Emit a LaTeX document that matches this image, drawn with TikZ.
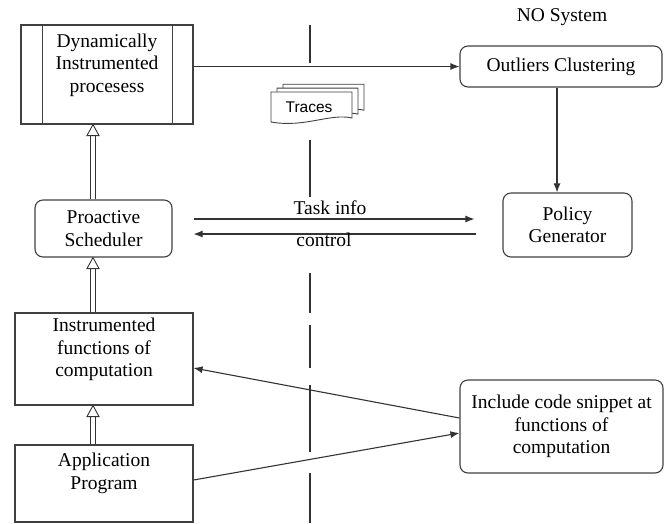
\documentclass[tikz,border=0pt]{standalone}
\usepackage{fontspec}
\setmainfont{Liberation Serif}
\newfontfamily\tracefont{Liberation Sans}
\usetikzlibrary{arrows.meta}

\tikzset{
  every node/.style={font=\rmfamily\fontsize{19.5}{22.5}\selectfont, text=black},
  sqbox/.style={draw=black!75, line width=1.1pt, align=center, inner sep=3pt},
  rbox/.style={sqbox, rounded corners=8pt},
  flow/.style={draw=black!80, line width=1.1pt, -{Latex[length=9pt,width=7pt]}},
  dblline/.style={draw=black!80, line width=0.9pt},
}
% hollow double arrow pointing up, from #1 to #2
\newcommand{\dblup}[2]{%
  \draw[dblline] ([xshift=-2.2pt]#1) -- ([xshift=-2.2pt,yshift=-10pt]#2);
  \draw[dblline] ([xshift=2.2pt]#1) -- ([xshift=2.2pt,yshift=-10pt]#2);
  \draw[dblline, fill=white, line join=miter] ([xshift=-6pt,yshift=-11pt]#2) -- (#2) -- ([xshift=6pt,yshift=-11pt]#2) -- cycle;}

\begin{document}
\begin{tikzpicture}[x=1pt, y=-1pt]
    \useasboundingbox (0,0) rectangle (664,523);
    % left column
    \node[sqbox, minimum width=172pt, minimum height=99pt, text depth=23pt] (dyn) at (107,74.5) {Dynamically\\Instrumented\\procesess};
    \draw[black!75, line width=1.1pt] ([xshift=22pt]dyn.north west) -- ([xshift=22pt]dyn.south west);
    \draw[black!75, line width=1.1pt] ([xshift=-21pt]dyn.north east) -- ([xshift=-21pt]dyn.south east);
    \node[rbox, minimum width=137pt, minimum height=57pt] (sched) at (103.5,228.5) {Proactive\\Scheduler};
    \node[sqbox, minimum width=178pt, minimum height=92pt, text depth=23pt] (inst) at (104,359) {Instrumented\\functions of\\computation};
    \node[sqbox, minimum width=178pt, minimum height=77pt, text depth=25pt] (app) at (104,483.5) {Application\\Program};
    % right column
    \node (nosys) at (562,17) {NO System};
    \node[rbox, minimum width=202pt, minimum height=41pt] (outl) at (561,66.5) {Outliers Clustering};
    \node[rbox, minimum width=129pt, minimum height=64pt] (policy) at (567.5,225) {Policy\\Generator};
    \node[rbox, minimum width=203pt, minimum height=93pt] (incl) at (561.5,426.5) {Include code snippet at\\functions of\\computation};

    % separator
    \foreach \a/\b in {25/63, 140/197, 273/313, 325/368, 385/452, 473/523}
        \draw[black!80, line width=1.1pt] (310,\a) -- (310,\b);

    % traces
    \foreach \d in {12,6,0}
        \draw[black!75, line width=0.9pt, fill=white] (271+\d,92-\d*0.65) -- (352+\d,92-\d*0.65) -- (352+\d,118-\d*0.65)
            .. controls (330+\d,113-\d*0.65) and (305+\d,128-\d*0.65) .. (271+\d,122-\d*0.65) -- cycle;
    \node[font=\tracefont\fontsize{15.5}{18}\selectfont] (traces) at (309,107) {Traces};

    % connectors
    \draw[flow] (dyn.east |- outl.west) -- (outl.west);
    \draw[flow] ([xshift=-4pt]outl.south) -- ([xshift=-4pt]outl.south |- policy.north);
    \coordinate (ti1) at ([xshift=21pt,yshift=9.5pt]sched.east);
    \coordinate (ti2) at ([xshift=-28pt,yshift=6pt]policy.west);
    \coordinate (ct1) at ([xshift=21pt,yshift=-5.5pt]sched.east);
    \coordinate (ct2) at ([xshift=-26pt,yshift=-9pt]policy.west);
    \draw[flow] (ti1) -- (ti2);
    \draw[flow] (ct2) -- (ct1);
    \node (tinfo) at (330,208) {Task info};
    \node (ctrl) at (324,240) {control};
    \draw[flow] ([yshift=8.5pt]incl.west) -- ([yshift=-9pt]inst.east);
    \draw[flow] ([yshift=3.5pt]app.east) -- ([yshift=-6.5pt]incl.west);
    \coordinate (a1) at ([xshift=-11pt]app.north);
    \coordinate (a2) at (a1 |- inst.south);
    \coordinate (b1) at ([xshift=-11pt]inst.north);
    \coordinate (b2) at (b1 |- sched.south);
    \coordinate (c1) at ([xshift=-10.5pt]sched.north);
    \coordinate (c2) at (c1 |- dyn.south);
    \dblup{a1}{a2}
    \dblup{b1}{b2}
    \dblup{c1}{c2}
\end{tikzpicture}
\end{document}
